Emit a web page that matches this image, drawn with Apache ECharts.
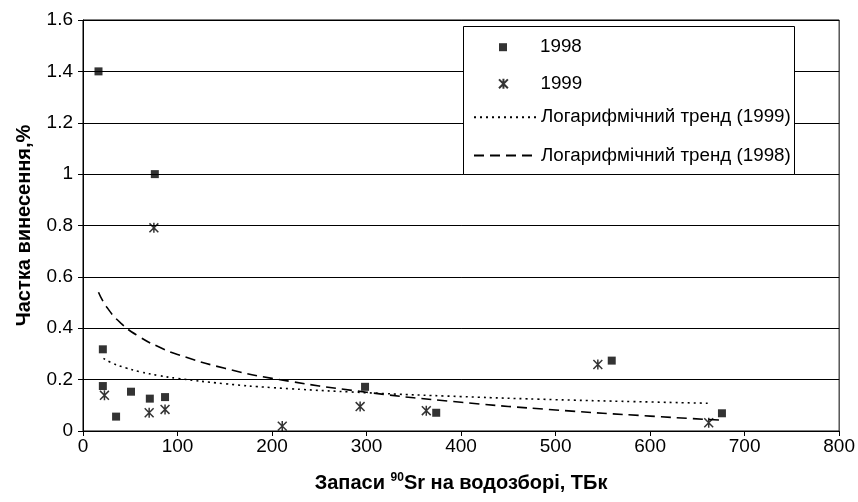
<!DOCTYPE html>
<html>
<head>
<meta charset="utf-8">
<script src="https://cdn.jsdelivr.net/npm/echarts@6/dist/echarts.min.js"></script>
<style>
  html, body { margin: 0; padding: 0; background: #fff; }
  #chart { width: 858px; height: 502px; }
</style>
</head>
<body>
<div id="chart"></div>
<script>
// 90Sr stock on the catchment (TBq) vs. washout share (%)
const x1998 = [16.4, 76, 21, 21, 35, 50.8, 70.7, 86.8, 298.4, 373.7, 559.4, 676];
const y1998 = [1.40, 1.00, 0.318, 0.175, 0.056, 0.153, 0.126, 0.132, 0.172, 0.071, 0.274, 0.069];

const x1999 = [75, 22.7, 70, 86.8, 210.8, 293.2, 363.2, 544.7, 662];
const y1999 = [0.791, 0.139, 0.071, 0.084, 0.019, 0.095, 0.079, 0.259, 0.032];

// logarithmic trend curves
const trendX1998 = [16.4, 25, 40, 60, 80, 100, 150, 200, 300, 400, 500, 600, 676];
const trendY1998 = [0.540, 0.483, 0.420, 0.366, 0.328, 0.298, 0.244, 0.205, 0.151, 0.112, 0.082, 0.058, 0.042];

const trendX1999 = [21.7, 30, 45, 60, 80, 100, 150, 200, 300, 400, 500, 600, 662];
const trendY1999 = [0.283, 0.266, 0.246, 0.231, 0.216, 0.205, 0.184, 0.169, 0.149, 0.134, 0.122, 0.113, 0.108];

const legendNames = ['1998', '1999', 'Логарифмічний тренд (1999)', 'Логарифмічний тренд (1998)'];

const zip = (xs, ys) => xs.map((v, i) => [v, ys[i]]);

const FONT = '"Liberation Sans", Arial, sans-serif';
const STAR = 'path://M0,0L8,8M8,0L0,8M4,-0.5L4,8.5';

const chart = echarts.init(document.getElementById('chart'), null, { renderer: 'canvas' });

const legendText = { fontFamily: FONT, fontSize: 18.8, color: '#000', lineHeight: 18, width: 252 };
const hiddenSymbol = { color: 'transparent', borderColor: 'transparent', borderWidth: 0 };

chart.setOption({
  animation: false,
  backgroundColor: '#fff',
  textStyle: { fontFamily: FONT },
  grid: {
    left: 83, right: 15, top: 20, bottom: 71,
    show: true, borderColor: '#000', borderWidth: 1
  },
  graphic: [{
    type: 'rect', z: 1,
    shape: { x: 463.5, y: 26.5, width: 331, height: 148 },
    style: { fill: '#fff', stroke: '#000', lineWidth: 1 }
  }],
  legend: [
    { data: [legendNames[0]], left: 499, top: 37.7, padding: 0, itemWidth: 8, itemHeight: 8,
      textStyle: Object.assign({}, legendText, { padding: [0, 0, 0, 28] }) },
    { data: [legendNames[1]], left: 498, top: 74.3, padding: 0, itemWidth: 10, itemHeight: 10,
      textStyle: Object.assign({}, legendText, { padding: [0, 0, 0, 27] }) },
    { data: [legendNames[2]], left: 473, top: 107.7, padding: 0, itemWidth: 62, itemHeight: 14,
      itemStyle: hiddenSymbol, textStyle: legendText },
    { data: [legendNames[3]], left: 473, top: 146, padding: 0, itemWidth: 62, itemHeight: 14,
      itemStyle: hiddenSymbol, textStyle: legendText }
  ],
  xAxis: {
    type: 'value', min: 0, max: 800, interval: 100,
    name: '{b|Запаси }{sup|90}{b|Sr на водозборі, ТБк}',
    nameLocation: 'middle', nameGap: 41,
    nameTextStyle: {
      rich: {
        b: { fontFamily: FONT, fontSize: 20, fontWeight: 'bold', color: '#000', lineHeight: 22 },
        sup: { fontFamily: FONT, fontSize: 12, fontWeight: 'bold', color: '#000', lineHeight: 12, verticalAlign: 'top' }
      }
    },
    axisLine: { lineStyle: { color: '#000', width: 1 } },
    axisTick: { show: true, inside: false, length: 5, lineStyle: { color: '#000' } },
    axisLabel: { color: '#000', fontSize: 19, fontFamily: FONT, margin: 6 },
    splitLine: { show: false }
  },
  yAxis: {
    type: 'value', min: 0, max: 1.6, interval: 0.2,
    name: 'Частка винесення,%',
    nameLocation: 'middle', nameGap: 49, nameRotate: 90,
    nameTextStyle: { fontFamily: FONT, fontSize: 20, fontWeight: 'bold', color: '#000' },
    axisLine: { show: true, lineStyle: { color: '#000', width: 1 } },
    axisTick: { show: true, inside: false, length: 5, lineStyle: { color: '#000' } },
    axisLabel: { color: '#000', fontSize: 19, fontFamily: FONT, margin: 10 },
    splitLine: { show: true, lineStyle: { color: '#000', width: 1 } }
  },
  series: [
    {
      name: legendNames[0], type: 'scatter', z: 3,
      symbol: 'rect', symbolSize: 8,
      itemStyle: { color: '#000' },
      data: zip(x1998, y1998)
    },
    {
      name: legendNames[1], type: 'scatter', z: 3,
      symbol: STAR, symbolSize: 10, symbolKeepAspect: true,
      itemStyle: { color: 'transparent', borderColor: '#000', borderWidth: 1.5 },
      data: zip(x1999, y1999)
    },
    {
      name: legendNames[2], type: 'line', smooth: true, symbol: 'none', z: 2,
      lineStyle: { color: '#000', width: 1.6, type: [2, 4] },
      itemStyle: { color: '#000' },
      data: zip(trendX1999, trendY1999)
    },
    {
      name: legendNames[3], type: 'line', smooth: true, symbol: 'none', z: 2,
      lineStyle: { color: '#000', width: 1.6, type: [10, 6] },
      itemStyle: { color: '#000' },
      data: zip(trendX1998, trendY1998)
    }
  ]
});
</script>
</body>
</html>
